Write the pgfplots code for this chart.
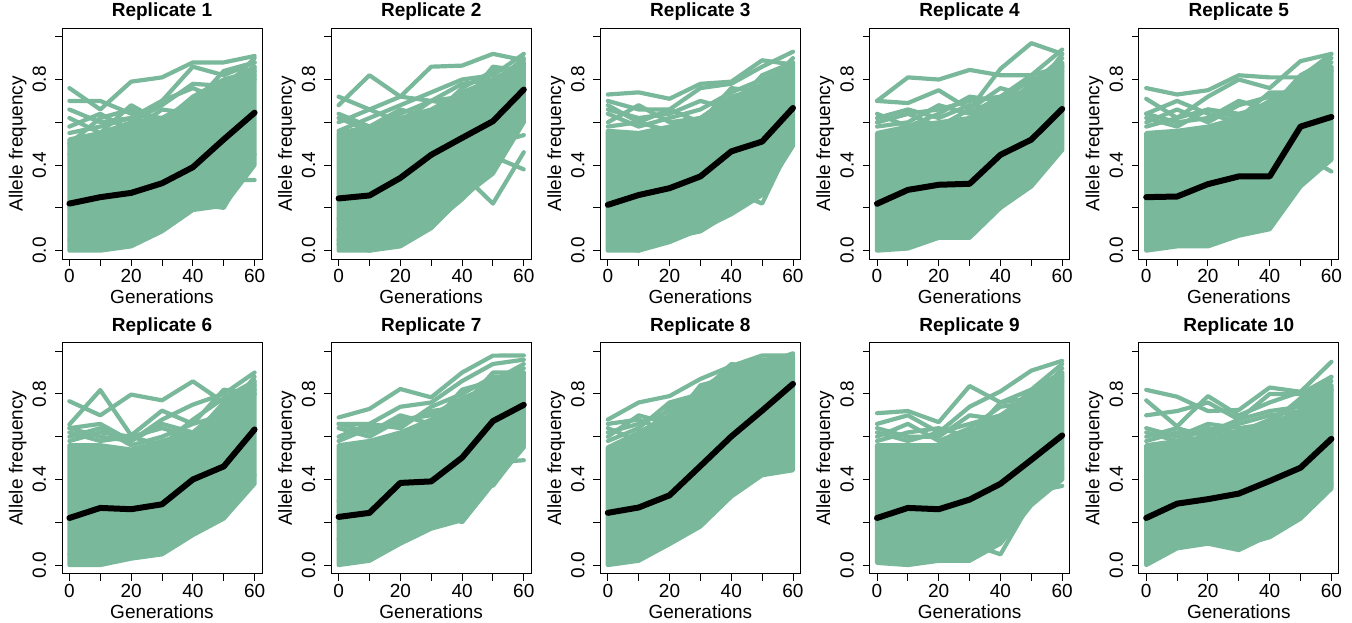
\documentclass[border=0pt]{standalone}
\usepackage{fontspec}
\setmainfont{Liberation Sans}
\usepackage{pgfplots}
\pgfplotsset{compat=1.18}
\definecolor{grn}{RGB}{121,184,154}
\pgfplotsset{
  panel/.style={
    scale only axis, width=200pt, height=231pt,
    xmin=-2.4, xmax=62.4, ymin=-0.04, ymax=1.04,
    axis line style={line width=1pt},
    every tick/.style={black, line width=1pt},
    major tick length=7pt,
    tick align=outside,
    xtick pos=left, ytick pos=left,
    xtick={0,10,20,30,40,50,60}, xticklabels={0,,20,,40,,60},
    ytick={0,0.2,0.4,0.6,0.8,1}, yticklabels={0.0,,0.4,,0.8,},
    tick label style={font=\fontsize{19}{22}\selectfont},
    xticklabel style={anchor=base, inner sep=0pt},
    yticklabel style={rotate=90, anchor=base, inner sep=0pt},
    xticklabel shift=16.6pt, yticklabel shift=9pt,
    label style={font=\fontsize{19}{22}\selectfont},
    xlabel={Generations}, ylabel={Allele frequency},
    xlabel style={at={(axis description cs:0.5,0)}, anchor=base, yshift=-44.6pt, inner sep=0pt},
    ylabel style={at={(axis description cs:-0.197,0.5)}, anchor=base, inner sep=0pt},
    title style={at={(axis description cs:0.5,1)}, anchor=base, yshift=5.4pt, inner sep=0pt, font=\fontsize{19}{22}\selectfont\bfseries},
    anchor=south west,
  },
  band/.style={fill=grn, draw=grn, line width=4.2pt, line join=round},
  gl/.style={draw=grn, line width=4.2pt, line join=round, line cap=round},
  mn/.style={draw=black, line width=6pt, line join=round, line cap=round},
}
\begin{document}
\begin{tikzpicture}
\path[use as bounding box] (0,0) rectangle (1352pt,623pt);
% ---------------- Replicate 1
\begin{axis}[panel, at={(62pt,363.8pt)}, title={Replicate 1}]
\addplot[band] coordinates {(0,0.52)(10,0.55)(20,0.60)(30,0.62)(40,0.70)(50,0.78)(60,0.86)(60,0.40)(50,0.21)(40,0.19)(30,0.09)(20,0.02)(10,0.0)(0,0.0)} --cycle;
\addplot[gl] coordinates {(0,0.62)(10,0.55)(20,0.68)(30,0.60)(40,0.72)(50,0.80)(60,0.84)};
\addplot[gl] coordinates {(0,0.58)(10,0.64)(20,0.56)(30,0.66)(40,0.64)(50,0.76)(60,0.90)};
\addplot[gl] coordinates {(0,0.66)(10,0.60)(20,0.62)(30,0.70)(40,0.76)(50,0.70)(60,0.82)};
\addplot[gl] coordinates {(0,0.50)(10,0.62)(20,0.66)(30,0.58)(40,0.68)(50,0.84)(60,0.88)};
\addplot[gl] coordinates {(0,0.76)(10,0.66)(20,0.79)(30,0.81)(40,0.88)(50,0.88)(60,0.91)};
\addplot[gl] coordinates {(0,0.70)(10,0.70)(20,0.64)(30,0.62)(40,0.66)(50,0.72)(60,0.80)};
\addplot[gl] coordinates {(0,0.55)(10,0.58)(20,0.62)(30,0.70)(40,0.86)(50,0.82)(60,0.88)};
\addplot[gl] coordinates {(0,0.45)(10,0.50)(20,0.60)(30,0.68)(40,0.78)(50,0.77)(60,0.86)};
\addplot[gl] coordinates {(0,0.20)(10,0.15)(20,0.22)(30,0.25)(40,0.28)(50,0.33)(60,0.33)};
\addplot[gl] coordinates {(0,0.05)(10,0.08)(20,0.12)(30,0.15)(40,0.22)(50,0.20)(60,0.45)};
\addplot[mn] coordinates {(0,0.22)(10,0.25)(20,0.27)(30,0.315)(40,0.39)(50,0.52)(60,0.645)};
\end{axis}
% ---------------- Replicate 2
\begin{axis}[panel, at={(331.2pt,363.8pt)}, title={Replicate 2}]
\addplot[band] coordinates {(0,0.55)(10,0.58)(20,0.62)(30,0.66)(40,0.74)(50,0.80)(60,0.88)(60,0.60)(50,0.36)(40,0.25)(30,0.105)(20,0.02)(10,0.0)(0,0.0)} --cycle;
\addplot[gl] coordinates {(0,0.64)(10,0.58)(20,0.66)(30,0.62)(40,0.76)(50,0.84)(60,0.86)};
\addplot[gl] coordinates {(0,0.60)(10,0.66)(20,0.60)(30,0.70)(40,0.72)(50,0.78)(60,0.90)};
\addplot[gl] coordinates {(0,0.56)(10,0.62)(20,0.68)(30,0.74)(40,0.80)(50,0.82)(60,0.92)};
\addplot[gl] coordinates {(0,0.62)(10,0.56)(20,0.64)(30,0.70)(40,0.68)(50,0.86)(60,0.84)};
\addplot[gl] coordinates {(0,0.68)(10,0.82)(20,0.72)(30,0.70)(40,0.78)(50,0.80)(60,0.86)};
\addplot[gl] coordinates {(0,0.72)(10,0.66)(20,0.72)(30,0.86)(40,0.865)(50,0.92)(60,0.89)};
\addplot[gl] coordinates {(0,0.10)(10,0.12)(20,0.20)(30,0.28)(40,0.36)(50,0.22)(60,0.46)};
\addplot[gl] coordinates {(0,0.05)(10,0.05)(20,0.10)(30,0.15)(40,0.28)(50,0.44)(60,0.38)};
\addplot[gl] coordinates {(0,0.15)(10,0.20)(20,0.25)(30,0.30)(40,0.40)(50,0.50)(60,0.54)};
\addplot[gl] coordinates {(0,0.03)(10,0.00)(20,0.03)(30,0.12)(40,0.24)(50,0.38)(60,0.62)};
\addplot[mn] coordinates {(0,0.244)(10,0.258)(20,0.34)(30,0.448)(40,0.527)(50,0.605)(60,0.753)};
\end{axis}
% ---------------- Replicate 3
\begin{axis}[panel, at={(600.4pt,363.8pt)}, title={Replicate 3}]
\addplot[band] coordinates {(0,0.56)(10,0.55)(20,0.58)(30,0.62)(40,0.70)(50,0.78)(60,0.88)(60,0.49)(50,0.26)(40,0.17)(30,0.10)(20,0.04)(10,0.0)(0,0.0)} --cycle;
\addplot[gl] coordinates {(0,0.64)(10,0.58)(20,0.62)(30,0.66)(40,0.74)(50,0.80)(60,0.86)};
\addplot[gl] coordinates {(0,0.60)(10,0.68)(20,0.60)(30,0.62)(40,0.72)(50,0.76)(60,0.90)};
\addplot[gl] coordinates {(0,0.66)(10,0.62)(20,0.64)(30,0.70)(40,0.66)(50,0.82)(60,0.88)};
\addplot[gl] coordinates {(0,0.58)(10,0.60)(20,0.66)(30,0.60)(40,0.76)(50,0.74)(60,0.84)};
\addplot[gl] coordinates {(0,0.73)(10,0.74)(20,0.71)(30,0.78)(40,0.79)(50,0.89)(60,0.87)};
\addplot[gl] coordinates {(0,0.70)(10,0.66)(20,0.66)(30,0.76)(40,0.78)(50,0.86)(60,0.93)};
\addplot[gl] coordinates {(0,0.68)(10,0.60)(20,0.56)(30,0.58)(40,0.62)(50,0.68)(60,0.78)};
\addplot[gl] coordinates {(0,0.08)(10,0.10)(20,0.15)(30,0.20)(40,0.28)(50,0.22)(60,0.52)};
\addplot[gl] coordinates {(0,0.02)(10,0.00)(20,0.06)(30,0.09)(40,0.18)(50,0.30)(60,0.55)};
\addplot[mn] coordinates {(0,0.214)(10,0.26)(20,0.292)(30,0.347)(40,0.464)(50,0.51)(60,0.667)};
\end{axis}
% ---------------- Replicate 4
\begin{axis}[panel, at={(869.6pt,363.8pt)}, title={Replicate 4}]
\addplot[band] coordinates {(0,0.55)(10,0.58)(20,0.60)(30,0.62)(40,0.70)(50,0.76)(60,0.88)(60,0.47)(50,0.30)(40,0.20)(30,0.06)(20,0.06)(10,0.01)(0,0.0)} --cycle;
\addplot[gl] coordinates {(0,0.62)(10,0.66)(20,0.62)(30,0.68)(40,0.66)(50,0.78)(60,0.90)};
\addplot[gl] coordinates {(0,0.58)(10,0.60)(20,0.68)(30,0.64)(40,0.72)(50,0.74)(60,0.86)};
\addplot[gl] coordinates {(0,0.64)(10,0.58)(20,0.64)(30,0.72)(40,0.70)(50,0.80)(60,0.84)};
\addplot[gl] coordinates {(0,0.60)(10,0.64)(20,0.58)(30,0.66)(40,0.76)(50,0.72)(60,0.92)};
\addplot[gl] coordinates {(0,0.70)(10,0.81)(20,0.80)(30,0.845)(40,0.82)(50,0.82)(60,0.86)};
\addplot[gl] coordinates {(0,0.70)(10,0.69)(20,0.75)(30,0.66)(40,0.85)(50,0.97)(60,0.92)};
\addplot[gl] coordinates {(0,0.60)(10,0.64)(20,0.66)(30,0.70)(40,0.72)(50,0.82)(60,0.94)};
\addplot[mn] coordinates {(0,0.219)(10,0.284)(20,0.308)(30,0.3125)(40,0.448)(50,0.519)(60,0.6625)};
\end{axis}
% ---------------- Replicate 5
\begin{axis}[panel, at={(1138.8pt,363.8pt)}, title={Replicate 5}]
\addplot[band] coordinates {(0,0.55)(10,0.56)(20,0.58)(30,0.62)(40,0.70)(50,0.78)(60,0.86)(60,0.425)(50,0.30)(40,0.10)(30,0.07)(20,0.02)(10,0.02)(0,0.0)} --cycle;
\addplot[gl] coordinates {(0,0.62)(10,0.58)(20,0.66)(30,0.64)(40,0.68)(50,0.80)(60,0.88)};
\addplot[gl] coordinates {(0,0.60)(10,0.66)(20,0.60)(30,0.68)(40,0.72)(50,0.76)(60,0.84)};
\addplot[gl] coordinates {(0,0.64)(10,0.60)(20,0.62)(30,0.70)(40,0.66)(50,0.82)(60,0.90)};
\addplot[gl] coordinates {(0,0.58)(10,0.62)(20,0.66)(30,0.62)(40,0.74)(50,0.74)(60,0.86)};
\addplot[gl] coordinates {(0,0.76)(10,0.73)(20,0.75)(30,0.82)(40,0.81)(50,0.81)(60,0.92)};
\addplot[gl] coordinates {(0,0.71)(10,0.62)(20,0.72)(30,0.80)(40,0.76)(50,0.886)(60,0.92)};
\addplot[gl] coordinates {(0,0.64)(10,0.70)(20,0.64)(30,0.60)(40,0.70)(50,0.76)(60,0.84)};
\addplot[gl] coordinates {(0,0.30)(10,0.28)(20,0.32)(30,0.36)(40,0.40)(50,0.45)(60,0.37)};
\addplot[mn] coordinates {(0,0.25)(10,0.253)(20,0.311)(30,0.347)(40,0.347)(50,0.58)(60,0.625)};
\end{axis}
% ---------------- Replicate 6
\begin{axis}[panel, at={(62pt,49.4pt)}, title={Replicate 6}]
\addplot[band] coordinates {(0,0.56)(10,0.56)(20,0.54)(30,0.58)(40,0.62)(50,0.72)(60,0.86)(60,0.38)(50,0.217)(40,0.14)(30,0.05)(20,0.03)(10,0.0)(0,0.0)} --cycle;
\addplot[gl] coordinates {(0,0.62)(10,0.58)(20,0.60)(30,0.64)(40,0.60)(50,0.76)(60,0.84)};
\addplot[gl] coordinates {(0,0.60)(10,0.64)(20,0.56)(30,0.60)(40,0.66)(50,0.70)(60,0.88)};
\addplot[gl] coordinates {(0,0.64)(10,0.60)(20,0.58)(30,0.66)(40,0.62)(50,0.74)(60,0.80)};
\addplot[gl] coordinates {(0,0.58)(10,0.62)(20,0.60)(30,0.56)(40,0.68)(50,0.78)(60,0.86)};
\addplot[gl] coordinates {(0,0.766)(10,0.70)(20,0.797)(30,0.77)(40,0.859)(50,0.76)(60,0.82)};
\addplot[gl] coordinates {(0,0.657)(10,0.818)(20,0.606)(30,0.722)(40,0.66)(50,0.82)(60,0.80)};
\addplot[gl] coordinates {(0,0.64)(10,0.66)(20,0.58)(30,0.68)(40,0.75)(50,0.80)(60,0.90)};
\addplot[gl] coordinates {(0,0.05)(10,0.06)(20,0.04)(30,0.06)(40,0.20)(50,0.30)(60,0.42)};
\addplot[mn] coordinates {(0,0.22)(10,0.267)(20,0.261)(30,0.284)(40,0.40)(50,0.461)(60,0.634)};
\end{axis}
% ---------------- Replicate 7
\begin{axis}[panel, at={(331.2pt,49.4pt)}, title={Replicate 7}]
\addplot[band] coordinates {(0,0.56)(10,0.58)(20,0.62)(30,0.68)(40,0.76)(50,0.86)(60,0.90)(60,0.56)(50,0.40)(40,0.21)(30,0.17)(20,0.10)(10,0.02)(0,0.0)} --cycle;
\addplot[gl] coordinates {(0,0.64)(10,0.60)(20,0.68)(30,0.70)(40,0.78)(50,0.84)(60,0.92)};
\addplot[gl] coordinates {(0,0.60)(10,0.66)(20,0.64)(30,0.74)(40,0.80)(50,0.88)(60,0.88)};
\addplot[gl] coordinates {(0,0.66)(10,0.62)(20,0.70)(30,0.66)(40,0.82)(50,0.86)(60,0.94)};
\addplot[gl] coordinates {(0,0.58)(10,0.64)(20,0.66)(30,0.72)(40,0.74)(50,0.90)(60,0.90)};
\addplot[gl] coordinates {(0,0.69)(10,0.73)(20,0.823)(30,0.784)(40,0.90)(50,0.979)(60,0.98)};
\addplot[gl] coordinates {(0,0.66)(10,0.66)(20,0.74)(30,0.76)(40,0.86)(50,0.94)(60,0.96)};
\addplot[gl] coordinates {(0,0.12)(10,0.15)(20,0.20)(30,0.26)(40,0.20)(50,0.38)(60,0.55)};
\addplot[gl] coordinates {(0,0.20)(10,0.25)(20,0.30)(30,0.32)(40,0.42)(50,0.37)(60,0.56)};
\addplot[gl] coordinates {(0,0.30)(10,0.30)(20,0.35)(30,0.40)(40,0.45)(50,0.48)(60,0.49)};
\addplot[mn] coordinates {(0,0.225)(10,0.244)(20,0.384)(30,0.391)(40,0.502)(50,0.673)(60,0.749)};
\end{axis}
% ---------------- Replicate 8
\begin{axis}[panel, at={(600.4pt,49.4pt)}, title={Replicate 8}]
\addplot[band] coordinates {(0,0.55)(10,0.62)(20,0.70)(30,0.82)(40,0.92)(50,0.96)(60,0.97)(60,0.443)(50,0.42)(40,0.32)(30,0.18)(20,0.098)(10,0.02)(0,0.0)} --cycle;
\addplot[gl] coordinates {(0,0.62)(10,0.66)(20,0.72)(30,0.78)(40,0.90)(50,0.94)(60,0.96)};
\addplot[gl] coordinates {(0,0.60)(10,0.70)(20,0.66)(30,0.84)(40,0.88)(50,0.96)(60,0.94)};
\addplot[gl] coordinates {(0,0.58)(10,0.64)(20,0.76)(30,0.80)(40,0.94)(50,0.92)(60,0.98)};
\addplot[gl] coordinates {(0,0.68)(10,0.76)(20,0.79)(30,0.87)(40,0.93)(50,0.98)(60,0.98)};
\addplot[gl] coordinates {(0,0.64)(10,0.58)(20,0.74)(30,0.80)(40,0.90)(50,0.94)(60,0.99)};
\addplot[gl] coordinates {(0,0.66)(10,0.68)(20,0.62)(30,0.72)(40,0.82)(50,0.90)(60,0.96)};
\addplot[mn] coordinates {(0,0.244)(10,0.269)(20,0.326)(30,0.463)(40,0.601)(50,0.722)(60,0.847)};
\end{axis}
% ---------------- Replicate 9
\begin{axis}[panel, at={(869.6pt,49.4pt)}, title={Replicate 9}]
\addplot[band] coordinates {(0,0.56)(10,0.56)(20,0.56)(30,0.62)(40,0.70)(50,0.78)(60,0.90)(60,0.40)(50,0.28)(40,0.10)(30,0.02)(20,0.02)(10,0.0)(0,0.01)} --cycle;
\addplot[gl] coordinates {(0,0.62)(10,0.58)(20,0.62)(30,0.66)(40,0.70)(50,0.80)(60,0.88)};
\addplot[gl] coordinates {(0,0.60)(10,0.66)(20,0.58)(30,0.64)(40,0.74)(50,0.76)(60,0.92)};
\addplot[gl] coordinates {(0,0.64)(10,0.60)(20,0.60)(30,0.70)(40,0.68)(50,0.82)(60,0.90)};
\addplot[gl] coordinates {(0,0.58)(10,0.62)(20,0.64)(30,0.60)(40,0.76)(50,0.78)(60,0.86)};
\addplot[gl] coordinates {(0,0.71)(10,0.72)(20,0.668)(30,0.837)(40,0.76)(50,0.82)(60,0.94)};
\addplot[gl] coordinates {(0,0.66)(10,0.70)(20,0.62)(30,0.74)(40,0.812)(50,0.909)(60,0.955)};
\addplot[gl] coordinates {(0,0.10)(10,0.12)(20,0.10)(30,0.10)(40,0.05)(50,0.30)(60,0.45)};
\addplot[gl] coordinates {(0,0.20)(10,0.22)(20,0.25)(30,0.30)(40,0.35)(50,0.34)(60,0.37)};
\addplot[mn] coordinates {(0,0.22)(10,0.267)(20,0.261)(30,0.306)(40,0.38)(50,0.492)(60,0.606)};
\end{axis}
% ---------------- Replicate 10
\begin{axis}[panel, at={(1138.8pt,49.4pt)}, title={Replicate 10}]
\addplot[band] coordinates {(0,0.56)(10,0.58)(20,0.60)(30,0.62)(40,0.66)(50,0.72)(60,0.84)(60,0.357)(50,0.217)(40,0.13)(30,0.09)(20,0.10)(10,0.078)(0,0.0)} --cycle;
\addplot[gl] coordinates {(0,0.62)(10,0.58)(20,0.64)(30,0.62)(40,0.68)(50,0.76)(60,0.86)};
\addplot[gl] coordinates {(0,0.60)(10,0.64)(20,0.60)(30,0.66)(40,0.70)(50,0.72)(60,0.82)};
\addplot[gl] coordinates {(0,0.64)(10,0.60)(20,0.66)(30,0.64)(40,0.66)(50,0.78)(60,0.88)};
\addplot[gl] coordinates {(0,0.58)(10,0.62)(20,0.62)(30,0.68)(40,0.72)(50,0.74)(60,0.84)};
\addplot[gl] coordinates {(0,0.819)(10,0.787)(20,0.72)(30,0.725)(40,0.83)(50,0.81)(60,0.82)};
\addplot[gl] coordinates {(0,0.77)(10,0.648)(20,0.79)(30,0.70)(40,0.76)(50,0.81)(60,0.95)};
\addplot[gl] coordinates {(0,0.70)(10,0.72)(20,0.76)(30,0.68)(40,0.80)(50,0.80)(60,0.88)};
\addplot[gl] coordinates {(0,0.06)(10,0.10)(20,0.10)(30,0.07)(40,0.14)(50,0.22)(60,0.38)};
\addplot[mn] coordinates {(0,0.22)(10,0.287)(20,0.308)(30,0.334)(40,0.393)(50,0.455)(60,0.59)};
\end{axis}
\end{tikzpicture}
\end{document}
